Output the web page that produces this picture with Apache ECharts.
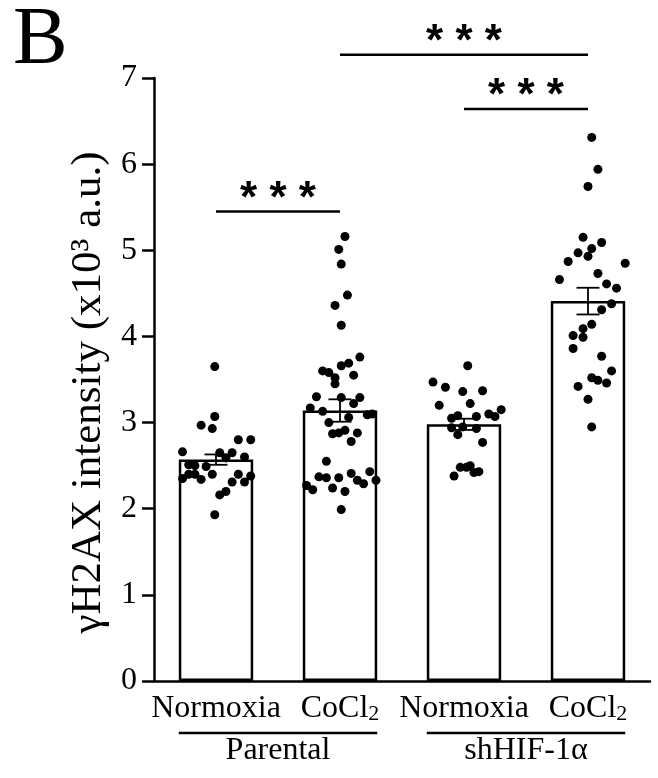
<!DOCTYPE html>
<html><head><meta charset="utf-8">
<script src="https://cdn.jsdelivr.net/npm/echarts@6/dist/echarts.min.js"></script>
<style>html,body{margin:0;padding:0;background:#fff}#c{width:658px;height:778px}</style>
</head><body><div id="c"></div>
<script>
const categories = ['Normoxia', 'CoCl2', 'Normoxia', 'CoCl2'];
const groupNames = ['Parental', 'shHIF-1α'];
const groupSpans = [[0, 1], [2, 3]];
const means = [2.57, 3.14, 2.98, 4.41];
const sems = [0.06, 0.13, 0.065, 0.155];
const yTicks = [0, 1, 2, 3, 4, 5, 6, 7];
const g1Values = [3.65,3.07,2.97,2.93,2.80,2.80,2.66,2.65,2.65,2.59,2.60,2.51,2.50,2.49,2.35,2.40,2.40,2.34,2.40,2.40,2.31,2.31,2.38,2.16,2.20,1.93];
const g1Jitter = [-0.01,-0.01,-0.12,-0.03,0.18,0.28,-0.27,0.03,0.13,0.08,0.23,-0.22,-0.17,-0.08,-0.27,-0.22,-0.17,-0.12,-0.03,0.18,0.13,0.23,0.28,0.03,0.08,-0.01];
const g2Values = [5.16,5.01,4.84,4.48,4.36,4.13,3.76,3.66,3.69,3.60,3.58,3.52,3.55,3.45,3.30,3.29,3.29,3.22,3.17,3.13,3.09,3.10,3.06,3.00,2.87,2.88,2.91,2.88,2.78,2.55,2.37,2.36,2.36,2.41,2.43,2.33,2.29,2.33,2.27,2.22,2.24,2.20,1.99];
const g2Jitter = [0.04,-0.01,0.01,0.06,-0.04,0.01,0.16,0.01,0.07,-0.14,-0.09,-0.04,0.11,-0.04,-0.19,0.01,0.16,0.11,-0.24,-0.14,0.22,0.26,0.07,-0.09,-0.06,-0.01,0.04,0.14,0.09,-0.11,-0.17,-0.11,-0.01,0.09,0.24,0.14,0.19,0.29,-0.27,-0.22,-0.06,0.04,0.01];
const g3Values = [3.66,3.47,3.41,3.36,3.37,3.20,3.22,3.10,3.07,3.15,3.08,3.05,3.07,2.94,2.95,2.93,2.86,2.77,2.48,2.50,2.48,2.42,2.43,2.38];
const g3Jitter = [0.03,-0.25,-0.15,-0.01,0.15,-0.20,0.05,0.20,0.25,0.30,-0.05,-0.10,0.10,-0.10,-0.01,0.10,-0.05,0.15,-0.03,0.05,0.02,0.08,0.12,-0.08];
const g4Values = [6.31,5.94,5.74,5.15,5.09,5.02,4.97,4.93,4.87,4.85,4.66,4.73,4.61,4.56,4.38,4.31,4.14,4.09,4.01,3.99,3.86,3.77,3.60,3.52,3.49,3.46,3.42,3.27,2.95];
const g4Jitter = [0.03,0.08,0.00,-0.04,0.11,0.03,-0.08,0.00,-0.16,0.30,-0.23,0.08,0.15,0.23,0.19,0.11,0.03,-0.04,-0.12,-0.04,-0.12,0.11,0.19,0.03,0.08,0.15,-0.08,0.00,0.03];
const sigPairs = [[0, 1, 5.45], [1, 3, 7.27], [2, 3, 6.64]];
const sigLabel = '* * *';
const yName = 'γH2AX intensity (x10³ a.u.)';
const panelLetter = 'B';

const SERIF = '"Liberation Serif", "Times New Roman", serif';
const allValues = [g1Values, g2Values, g3Values, g4Values];
const allJitter = [g1Jitter, g2Jitter, g3Jitter, g4Jitter];
const points = [];
allValues.forEach((vals, g) => vals.forEach((v, i) => points.push([g + allJitter[g][i], v])));

const chart = echarts.init(document.getElementById('c'), null, {renderer: 'canvas'});
const BAR_FRAC = 0.6;
chart.setOption({
  animation: false,
  backgroundColor: '#fff',
  grid: {left: 154, right: 8, top: 78, bottom: 97, containLabel: false},
  graphic: [{type: 'text', left: 13, top: 0, style: {text: panelLetter, font: '82px ' + SERIF, fill: '#000'}}],
  xAxis: [{
    type: 'category', data: categories, boundaryGap: true,
    axisLine: {onZero: false, lineStyle: {color: '#000', width: 2.5}},
    axisTick: {show: false},
    axisLabel: {
      margin: 11, interval: 0,
      formatter: v => v === 'CoCl2' ? '{t|CoCl}{s|2}' : '{t|' + v + '}',
      rich: {
        t: {fontSize: 32, lineHeight: 33, fontFamily: SERIF, color: '#000'},
        s: {fontSize: 22, lineHeight: 10, verticalAlign: 'bottom', fontFamily: SERIF, color: '#000'}
      }
    }
  }, {
    type: 'value', min: -0.5, max: 3.5, show: false
  }],
  yAxis: {
    type: 'value', min: 0, max: 7, interval: 1,
    name: yName, nameLocation: 'middle', nameGap: 41,
    nameTextStyle: {fontSize: 43, fontFamily: SERIF, color: '#000', padding: [0, 26, 0, 0]},
    axisLine: {show: true, onZero: false, lineStyle: {color: '#000', width: 2.5}},
    axisTick: {show: true, length: 12, lineStyle: {color: '#000', width: 2.5}},
    axisLabel: {margin: 17, fontSize: 32, fontFamily: SERIF, color: '#000',
      formatter: v => yTicks.indexOf(v) >= 0 ? String(v) : ''},
    splitLine: {show: false}
  },
  series: [
    {
      type: 'bar', data: means, barWidth: (BAR_FRAC * 100) + '%', z: 2,
      itemStyle: {color: '#fff', borderColor: '#000', borderWidth: 2.5}
    },
    {
      type: 'custom', z: 3, clip: false,
      data: means.map((m, i) => [i, m, sems[i]]),
      renderItem: (params, api) => {
        const i = api.value(0), m = api.value(1), s = api.value(2);
        const top = api.coord([i, m + s]), bot = api.coord([i, m - s]);
        const hw = 11.5;
        const st = {stroke: '#000', lineWidth: 1.8};
        return {type: 'group', children: [
          {type: 'line', shape: {x1: top[0], y1: top[1], x2: bot[0], y2: bot[1]}, style: st},
          {type: 'line', shape: {x1: top[0] - hw, y1: top[1], x2: top[0] + hw, y2: top[1]}, style: st},
          {type: 'line', shape: {x1: bot[0] - hw, y1: bot[1], x2: bot[0] + hw, y2: bot[1]}, style: st}
        ]};
      }
    },
    {
      type: 'scatter', xAxisIndex: 1, data: points, symbol: 'circle', symbolSize: 9, z: 4,
      itemStyle: {color: '#000', opacity: 1}
    },
    {
      type: 'custom', z: 5, clip: false,
      data: sigPairs,
      renderItem: (params, api) => {
        const a = api.coord([api.value(0), api.value(2)]);
        const b = api.coord([api.value(1), api.value(2)]);
        return {type: 'group', children: [
          {type: 'line', shape: {x1: a[0], y1: a[1], x2: b[0], y2: b[1]}, style: {stroke: '#000', lineWidth: 2.5}},
          {type: 'text', x: (a[0] + b[0]) / 2, y: a[1] - 12,
            style: {text: sigLabel, font: 'bold 44px "Liberation Sans", Arial, sans-serif', fill: '#000', textAlign: 'center', textVerticalAlign: 'middle'}}
        ]};
      }
    },
    {
      type: 'custom', z: 5, clip: false,
      data: groupSpans,
      renderItem: (params, api) => {
        const a = api.coord([api.value(0), 0]);
        const b = api.coord([api.value(1), 0]);
        const bw = api.size([1, 0])[0] * BAR_FRAC;
        const y = a[1] + 52;
        return {type: 'group', children: [
          {type: 'line', shape: {x1: a[0] - bw / 2, y1: y, x2: b[0] + bw / 2, y2: y}, style: {stroke: '#000', lineWidth: 2.5}},
          {type: 'text', x: (a[0] + b[0]) / 2, y: y + 18,
            style: {text: groupNames[params.dataIndex], font: '32px ' + SERIF, fill: '#000', textAlign: 'center', textVerticalAlign: 'middle'}}
        ]};
      }
    }
  ]
});
</script></body></html>
